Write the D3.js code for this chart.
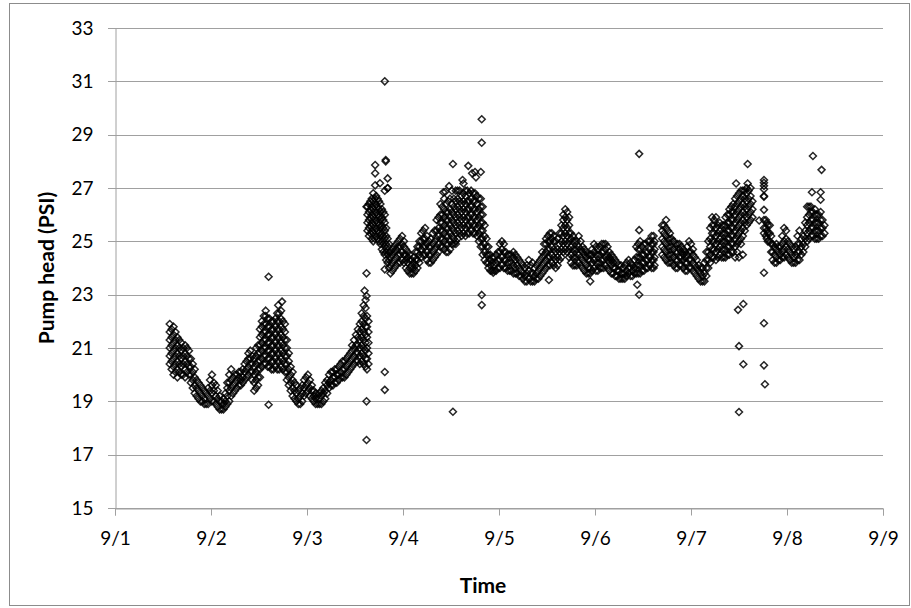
<!DOCTYPE html>
<html>
<head>
<meta charset="utf-8">
<script src="https://cdn.jsdelivr.net/npm/d3@7/dist/d3.min.js"></script>
<style>
  html, body { margin: 0; padding: 0; background: #fff; }
  svg { display: block; }
  text { font-family: Lato, "Open Sans", sans-serif; fill: #000; }
</style>
</head>
<body>
<svg id="chart" width="911" height="608"></svg>
<script>
// Pump head readings, September. Each row: [day of month, readings logged around that time...]
const pumpRows = [
  [1.57, 20.4, 20.7, 21.0, 21.3, 21.6, 21.9],
  [1.59, 20.2, 20.5, 20.8, 21.1, 21.4, 21.7],
  [1.61, 20.0, 20.3, 20.6, 20.9, 21.2, 21.5, 21.8],
  [1.63, 20.1, 20.4, 20.7, 21.0, 21.3, 21.6],
  [1.65, 19.9, 20.2, 20.5, 20.8, 21.1, 21.4],
  [1.67, 20.1, 20.4, 20.7, 21.0, 21.3],
  [1.69, 20.0, 20.3, 20.6, 20.9, 21.2],
  [1.71, 20.0, 20.4, 20.7, 21.0],
  [1.73, 19.9, 20.2, 20.5, 20.8, 21.1],
  [1.75, 20.1, 20.4, 20.7, 21.0],
  [1.77, 20.0, 20.3, 20.6, 20.9],
  [1.79, 19.7, 20.0, 20.3, 20.6],
  [1.81, 19.5, 19.8, 20.1, 20.4],
  [1.83, 19.3, 19.6, 19.9, 20.2],
  [1.85, 19.2, 19.5, 19.8],
  [1.87, 19.1, 19.4, 19.7],
  [1.89, 19.0, 19.3, 19.6],
  [1.91, 19.0, 19.2, 19.5],
  [1.93, 18.9, 19.1, 19.4],
  [1.95, 18.9, 19.3],
  [1.97, 18.9, 19.2, 19.5],
  [1.99, 19.1, 19.4, 19.8],
  [2.01, 19.0, 19.3, 19.6, 20.0],
  [2.03, 19.0, 19.4, 19.7],
  [2.05, 18.9, 19.2, 19.6],
  [2.07, 18.8, 19.1, 19.4],
  [2.09, 18.7, 19.0, 19.2],
  [2.11, 18.7, 19.0],
  [2.13, 18.7, 18.9, 19.1],
  [2.15, 18.8, 19.0, 19.3],
  [2.17, 18.9, 19.2, 19.5, 19.7],
  [2.19, 19.0, 19.4, 19.7, 20.0],
  [2.21, 19.2, 19.5, 19.8, 20.2],
  [2.23, 19.3, 19.6, 19.9],
  [2.25, 19.4, 19.7, 20.0],
  [2.27, 19.5, 19.8, 20.0],
  [2.29, 19.6, 19.9, 20.1],
  [2.31, 19.6, 19.8, 20.1],
  [2.33, 19.7, 19.9, 20.2],
  [2.35, 19.8, 20.1, 20.4],
  [2.37, 19.9, 20.2, 20.5],
  [2.39, 20.0, 20.3, 20.6, 20.8],
  [2.41, 20.1, 20.4, 20.6, 20.9],
  [2.43, 19.8, 20.1, 20.4, 20.7],
  [2.45, 19.4, 19.7, 20.0, 20.3, 20.6],
  [2.47, 19.5, 19.8, 20.1, 20.4, 20.7, 21.0],
  [2.49, 19.6, 19.9, 20.2, 20.5, 20.8, 21.1],
  [2.51, 19.9, 20.2, 20.5, 20.8, 21.1, 21.4, 21.7],
  [2.53, 20.3, 20.6, 20.9, 21.2, 21.5, 21.8, 22.0],
  [2.55, 20.4, 20.7, 21.0, 21.3, 21.6, 21.9, 22.2],
  [2.57, 20.4, 20.7, 21.0, 21.3, 21.6, 21.9, 22.2, 22.4],
  [2.59, 20.3, 20.6, 20.9, 21.2, 21.5, 21.8, 22.1],
  [2.61, 20.3, 20.6, 20.9, 21.2, 21.5, 21.8, 22.1],
  [2.63, 20.2, 20.5, 20.8, 21.1, 21.4, 21.7, 22.0],
  [2.65, 20.2, 20.5, 20.8, 21.1, 21.4, 21.7, 22.0],
  [2.67, 20.3, 20.6, 20.9, 21.2, 21.5, 21.8, 22.1],
  [2.69, 20.2, 20.5, 20.8, 21.1, 21.4, 21.7, 22.0, 22.3],
  [2.71, 20.2, 20.5, 20.8, 21.1, 21.4, 21.7, 22.0, 22.3],
  [2.73, 20.3, 20.6, 20.9, 21.2, 21.5, 21.8, 22.1, 22.4],
  [2.75, 20.2, 20.5, 20.8, 21.1, 21.4, 21.7, 22.0],
  [2.77, 20.1, 20.4, 20.7, 21.0, 21.3, 21.6, 21.9],
  [2.79, 19.8, 20.1, 20.4, 20.7, 21.0, 21.3],
  [2.81, 19.6, 19.9, 20.2, 20.5, 20.8],
  [2.83, 19.4, 19.7, 20.0, 20.3],
  [2.85, 19.2, 19.5, 19.8, 20.1],
  [2.87, 19.1, 19.4, 19.7],
  [2.89, 19.0, 19.3, 19.6],
  [2.91, 18.9, 19.1, 19.4],
  [2.93, 18.9, 19.2, 19.5],
  [2.95, 19.0, 19.3, 19.6],
  [2.97, 19.2, 19.5, 19.8],
  [2.99, 19.3, 19.6, 19.9],
  [3.01, 19.4, 19.7, 20.0],
  [3.03, 19.2, 19.5, 19.8],
  [3.05, 19.1, 19.4, 19.6],
  [3.07, 19.0, 19.2, 19.4],
  [3.09, 18.9, 19.1, 19.3],
  [3.11, 18.9, 19.2],
  [3.13, 18.9, 19.1, 19.3],
  [3.15, 18.9, 19.2, 19.4],
  [3.17, 19.0, 19.3, 19.5],
  [3.19, 19.1, 19.4, 19.7],
  [3.21, 19.3, 19.6, 19.8],
  [3.23, 19.5, 19.7, 20.0],
  [3.25, 19.6, 19.8, 20.1],
  [3.27, 19.6, 19.9, 20.1],
  [3.29, 19.7, 19.9, 20.2],
  [3.31, 19.7, 20.0, 20.2],
  [3.33, 19.8, 20.0, 20.3],
  [3.35, 19.9, 20.1, 20.4],
  [3.37, 19.9, 20.2, 20.5],
  [3.39, 19.9, 20.2, 20.5],
  [3.41, 20.0, 20.3, 20.6],
  [3.43, 20.1, 20.4, 20.7],
  [3.45, 20.2, 20.5, 20.8],
  [3.47, 20.3, 20.6, 20.9, 21.1],
  [3.49, 20.4, 20.7, 21.0, 21.3],
  [3.51, 20.5, 20.8, 21.1, 21.5],
  [3.53, 20.5, 20.8, 21.1, 21.4, 21.7],
  [3.55, 20.4, 20.7, 21.0, 21.3, 21.6, 21.9],
  [3.57, 20.5, 20.8, 21.1, 21.4, 21.7, 22.0, 22.3],
  [3.59, 20.4, 20.7, 21.0, 21.3, 21.6, 21.9, 22.2, 22.6],
  [3.61, 20.3, 20.6, 20.9, 21.2, 21.5, 21.8, 22.1, 22.5, 22.8],
  [3.625, 20.2, 20.6, 21.0, 21.4, 21.8, 22.2],
  [3.64, 20.4, 20.8, 21.2, 21.6, 22.0],
  [3.63, 25.4, 25.7, 26.0, 26.3],
  [3.645, 25.2, 25.5, 25.8, 26.1, 26.4],
  [3.66, 25.3, 25.6, 25.9, 26.2, 26.5],
  [3.675, 25.1, 25.4, 25.7, 26.0, 26.3, 26.6],
  [3.69, 25.0, 25.3, 25.6, 25.9, 26.2, 26.5, 26.8],
  [3.705, 25.1, 25.4, 25.7, 26.0, 26.3, 26.6],
  [3.72, 25.2, 25.5, 25.8, 26.1, 26.4, 26.7],
  [3.735, 25.1, 25.4, 25.7, 26.0, 26.3, 26.6],
  [3.75, 25.0, 25.3, 25.6, 25.9, 26.2, 26.5],
  [3.765, 24.9, 25.2, 25.5, 25.8, 26.1, 26.4],
  [3.78, 24.7, 25.0, 25.3, 25.6, 25.9, 26.2],
  [3.795, 24.6, 24.9, 25.2, 25.5, 25.8, 26.1],
  [3.81, 24.5, 24.8, 25.1, 25.4, 25.7, 26.0, 26.9],
  [3.825, 24.3, 24.6, 24.9, 25.2, 25.5],
  [3.84, 24.2, 24.5, 24.8, 25.1, 27.0],
  [3.855, 24.0, 24.3, 24.6, 24.9],
  [3.87, 23.8, 24.1, 24.4, 24.6],
  [3.89, 23.9, 24.2, 24.5, 24.7],
  [3.91, 24.0, 24.3, 24.6, 24.8],
  [3.93, 24.1, 24.4, 24.7, 24.9],
  [3.95, 24.2, 24.5, 24.8, 25.0],
  [3.97, 24.2, 24.5, 24.8, 25.1],
  [3.99, 24.3, 24.6, 24.9, 25.2],
  [4.01, 24.2, 24.5, 24.8, 25.0],
  [4.03, 24.0, 24.3, 24.5, 24.7],
  [4.05, 23.9, 24.2, 24.4, 24.6],
  [4.07, 23.8, 24.0, 24.3, 24.5],
  [4.09, 23.8, 24.1, 24.3],
  [4.11, 23.8, 24.0, 24.2, 24.4],
  [4.13, 23.9, 24.1, 24.3, 24.6],
  [4.15, 24.0, 24.3, 24.6, 24.8],
  [4.17, 24.2, 24.5, 24.8, 25.0],
  [4.19, 24.4, 24.7, 25.0, 25.3],
  [4.21, 24.5, 24.8, 25.1, 25.4],
  [4.23, 24.5, 24.8, 25.1, 25.5],
  [4.25, 24.3, 24.6, 24.9, 25.2],
  [4.27, 24.2, 24.5, 24.8, 25.0],
  [4.29, 24.2, 24.5, 24.8, 25.1],
  [4.31, 24.3, 24.6, 24.9, 25.3],
  [4.33, 24.4, 24.7, 25.0, 25.4],
  [4.35, 24.5, 24.8, 25.1, 25.4, 25.8],
  [4.37, 24.6, 24.9, 25.2, 25.5, 25.9],
  [4.39, 24.8, 25.1, 25.4, 25.7, 26.0, 26.4],
  [4.41, 24.8, 25.1, 25.4, 25.7, 26.0, 26.3],
  [4.43, 24.7, 25.0, 25.3, 25.6, 25.9, 26.2, 26.6],
  [4.45, 24.6, 24.9, 25.2, 25.5, 25.8, 26.1, 26.4],
  [4.47, 24.6, 24.9, 25.2, 25.5, 25.8, 26.1, 26.5],
  [4.49, 24.7, 25.0, 25.3, 25.6, 25.9, 26.2, 26.6],
  [4.51, 24.9, 25.2, 25.5, 25.8, 26.1, 26.4, 26.9],
  [4.53, 24.9, 25.1, 25.4, 25.7, 26.0, 26.3, 26.6],
  [4.55, 24.9, 25.0, 25.3, 25.6, 25.9, 26.2, 26.5, 26.9],
  [4.57, 25.1, 25.4, 25.7, 26.0, 26.3, 26.6, 26.9],
  [4.59, 25.3, 25.6, 25.9, 26.2, 26.5, 26.9],
  [4.61, 25.2, 25.5, 25.8, 26.1, 26.4, 26.7],
  [4.63, 25.3, 25.6, 25.9, 26.2, 26.5, 26.8],
  [4.65, 25.2, 25.5, 25.8, 26.1, 26.4, 26.7, 26.9],
  [4.67, 25.3, 25.6, 25.9, 26.2, 26.5, 26.9],
  [4.69, 25.3, 25.6, 25.9, 26.2, 26.5, 26.8],
  [4.71, 25.4, 25.7, 26.0, 26.3, 26.6, 26.9],
  [4.73, 25.3, 25.6, 25.9, 26.2, 26.5, 26.8],
  [4.75, 25.3, 25.6, 25.9, 26.2, 26.5, 26.8],
  [4.77, 25.2, 25.5, 25.8, 26.1, 26.4, 26.7],
  [4.79, 25.0, 25.3, 25.6, 25.9, 26.2, 26.6],
  [4.81, 24.8, 25.1, 25.4, 25.7, 26.0, 26.3, 26.6],
  [4.83, 24.5, 24.8, 25.1, 25.4, 25.7, 26.0, 26.3],
  [4.85, 24.3, 24.6, 24.9, 25.2, 25.6],
  [4.87, 24.2, 24.5, 24.8, 25.1],
  [4.89, 24.0, 24.2, 24.5, 24.8],
  [4.91, 23.9, 24.1, 24.3, 24.5],
  [4.93, 23.9, 24.2, 24.4],
  [4.95, 23.9, 24.1, 24.4],
  [4.97, 23.9, 24.2, 24.5],
  [4.99, 24.0, 24.3, 24.6],
  [5.01, 24.0, 24.3, 24.6, 24.9],
  [5.03, 24.1, 24.4, 24.7, 25.0],
  [5.05, 24.0, 24.3, 24.6, 24.9],
  [5.07, 24.0, 24.3, 24.6],
  [5.09, 23.9, 24.2, 24.5],
  [5.11, 23.9, 24.2, 24.5],
  [5.13, 23.9, 24.2, 24.5],
  [5.15, 23.8, 24.1, 24.4, 24.6],
  [5.17, 23.8, 24.0, 24.3, 24.5],
  [5.19, 23.8, 24.1, 24.4],
  [5.21, 23.7, 24.0, 24.3],
  [5.23, 23.7, 23.9, 24.2],
  [5.25, 23.6, 23.8, 24.1],
  [5.27, 23.5, 23.7, 24.0],
  [5.29, 23.5, 23.8, 24.1],
  [5.31, 23.6, 23.9, 24.3],
  [5.33, 23.5, 23.8, 24.1],
  [5.35, 23.5, 23.8, 24.2],
  [5.37, 23.5, 23.7, 24.0],
  [5.39, 23.6, 23.8, 24.1],
  [5.41, 23.6, 23.9, 24.2],
  [5.43, 23.7, 24.0, 24.3],
  [5.45, 23.8, 24.1, 24.4, 24.6],
  [5.47, 23.9, 24.2, 24.5, 24.9],
  [5.49, 24.0, 24.3, 24.6, 24.9, 25.1],
  [5.51, 24.1, 24.4, 24.7, 25.0, 25.2],
  [5.53, 24.1, 24.4, 24.7, 25.0, 25.3],
  [5.55, 24.2, 24.5, 24.8, 25.1, 25.3],
  [5.57, 24.1, 24.4, 24.7, 25.0, 25.2],
  [5.59, 24.0, 24.3, 24.6, 25.0],
  [5.61, 24.1, 24.4, 24.7, 25.1],
  [5.63, 24.3, 24.6, 24.9, 25.3],
  [5.65, 24.4, 24.7, 25.0, 25.3, 25.6],
  [5.67, 24.6, 24.9, 25.2, 25.5, 25.8, 26.0],
  [5.69, 24.7, 25.0, 25.3, 25.6, 25.9, 26.2],
  [5.71, 24.6, 24.9, 25.2, 25.5, 25.8, 26.1],
  [5.73, 24.4, 24.7, 25.0, 25.3, 25.6, 25.9],
  [5.75, 24.2, 24.5, 24.8, 25.1, 25.3],
  [5.77, 24.1, 24.4, 24.7, 25.0, 25.2],
  [5.79, 24.1, 24.4, 24.7, 25.0],
  [5.81, 24.1, 24.4, 24.7, 25.0],
  [5.83, 24.2, 24.5, 24.8, 25.2],
  [5.85, 24.1, 24.4, 24.7, 25.0],
  [5.87, 24.0, 24.3, 24.6, 24.8],
  [5.89, 23.9, 24.2, 24.5, 24.7],
  [5.91, 23.8, 24.1, 24.4, 24.6],
  [5.93, 23.8, 24.0, 24.3, 24.5],
  [5.95, 23.8, 24.0, 24.3, 24.5],
  [5.97, 23.9, 24.2, 24.5, 24.7],
  [5.99, 24.0, 24.3, 24.6, 24.9],
  [6.01, 23.9, 24.2, 24.5, 24.8],
  [6.03, 23.9, 24.2, 24.5, 24.7],
  [6.05, 24.0, 24.2, 24.5, 24.8],
  [6.07, 24.0, 24.3, 24.6, 24.9],
  [6.09, 24.0, 24.3, 24.6, 24.9],
  [6.11, 24.1, 24.4, 24.7, 24.9],
  [6.13, 24.0, 24.3, 24.5, 24.8],
  [6.15, 23.9, 24.2, 24.4, 24.6],
  [6.17, 23.8, 24.1, 24.3, 24.5],
  [6.19, 23.8, 24.0, 24.2, 24.4],
  [6.21, 23.7, 24.0, 24.3],
  [6.23, 23.7, 23.9, 24.2],
  [6.25, 23.6, 23.9, 24.1],
  [6.27, 23.6, 23.8, 24.1],
  [6.29, 23.6, 23.8, 24.0],
  [6.31, 23.6, 23.8, 24.1],
  [6.33, 23.7, 23.9, 24.2],
  [6.35, 23.8, 24.0, 24.3],
  [6.37, 23.7, 24.0, 24.2],
  [6.39, 23.7, 23.9, 24.1],
  [6.41, 23.8, 24.0, 24.3],
  [6.43, 23.8, 24.1, 24.4, 24.8],
  [6.45, 23.8, 24.1, 24.4, 24.7, 24.9],
  [6.47, 23.8, 24.1, 24.4, 24.7, 25.0],
  [6.49, 23.9, 24.2, 24.5, 24.8],
  [6.51, 23.9, 24.2, 24.5, 24.9],
  [6.53, 24.0, 24.3, 24.6, 24.9],
  [6.55, 24.0, 24.3, 24.6, 25.0],
  [6.57, 24.1, 24.4, 24.7, 25.0],
  [6.59, 24.0, 24.3, 24.6, 24.9, 25.2],
  [6.61, 24.0, 24.3, 24.6, 24.9, 25.2],
  [6.62, 24.1, 24.4, 24.7, 25.0],
  [6.70, 24.5, 24.8, 25.1, 25.4, 25.6],
  [6.72, 24.4, 24.7, 25.0, 25.3, 25.6],
  [6.74, 24.3, 24.6, 24.9, 25.2, 25.5, 25.8],
  [6.76, 24.2, 24.5, 24.8, 25.1, 25.4],
  [6.78, 24.2, 24.5, 24.8, 25.1, 25.3],
  [6.80, 24.2, 24.5, 24.8, 25.1],
  [6.82, 24.1, 24.4, 24.7, 25.0],
  [6.84, 24.0, 24.3, 24.6, 24.9],
  [6.86, 24.0, 24.3, 24.6, 24.9],
  [6.88, 24.1, 24.4, 24.7, 24.9],
  [6.90, 24.1, 24.4, 24.6, 24.8],
  [6.92, 24.0, 24.3, 24.5, 24.7],
  [6.94, 23.9, 24.2, 24.4, 24.6],
  [6.96, 23.9, 24.2, 24.5, 24.8],
  [6.98, 24.0, 24.3, 24.6, 25.0],
  [7.00, 24.0, 24.3, 24.6, 24.9],
  [7.02, 23.9, 24.2, 24.5, 24.7],
  [7.04, 23.8, 24.1, 24.4],
  [7.06, 23.7, 24.0, 24.3],
  [7.08, 23.6, 23.9, 24.1],
  [7.10, 23.5, 23.8, 24.0],
  [7.12, 23.5, 23.7, 24.0],
  [7.14, 23.5, 23.8, 24.2],
  [7.16, 23.7, 24.0, 24.3, 24.6],
  [7.18, 24.0, 24.3, 24.6, 25.0],
  [7.20, 24.2, 24.5, 24.8, 25.1, 25.5],
  [7.22, 24.4, 24.7, 25.0, 25.3, 25.6, 25.9],
  [7.24, 24.4, 24.7, 25.0, 25.3, 25.6, 25.8],
  [7.26, 24.3, 24.6, 24.9, 25.2, 25.5, 25.9],
  [7.28, 24.4, 24.7, 25.0, 25.3, 25.6],
  [7.30, 24.5, 24.8, 25.1, 25.4, 25.7],
  [7.32, 24.4, 24.7, 25.0, 25.3, 25.6],
  [7.34, 24.4, 24.7, 25.0, 25.3, 25.6],
  [7.36, 24.4, 24.7, 25.0, 25.3, 25.6, 25.9],
  [7.38, 24.5, 24.8, 25.1, 25.4, 25.7, 26.0],
  [7.40, 24.5, 24.8, 25.1, 25.4, 25.7, 26.0, 26.2],
  [7.42, 24.6, 24.9, 25.2, 25.5, 25.8, 26.1, 26.3],
  [7.44, 24.6, 24.9, 25.2, 25.5, 25.8, 26.1, 26.4],
  [7.46, 24.4, 24.8, 25.1, 25.4, 25.7, 26.0, 26.3, 26.6],
  [7.48, 24.6, 24.9, 25.2, 25.5, 25.8, 26.1, 26.4, 26.7],
  [7.50, 24.4, 25.0, 25.3, 25.6, 25.9, 26.2, 26.5, 26.8],
  [7.52, 24.9, 25.1, 25.4, 25.7, 26.0, 26.3, 26.6, 26.9],
  [7.54, 24.5, 25.2, 25.5, 25.8, 26.1, 26.4, 26.7, 26.9],
  [7.56, 25.4, 25.7, 26.0, 26.3, 26.6, 26.9],
  [7.58, 25.6, 25.9, 26.2, 26.5, 26.8, 27.0],
  [7.60, 25.7, 26.0, 26.3, 26.6, 26.9],
  [7.62, 25.8, 26.1, 26.4, 26.7, 27.0],
  [7.64, 25.9, 26.2, 26.5],
  [7.76, 25.3, 25.5, 25.8, 26.18, 26.67, 26.7, 26.95, 27.08, 27.2, 27.3],
  [7.78, 25.2, 25.5, 25.8],
  [7.79, 25.1, 25.4, 25.7],
  [7.80, 25.0, 25.3, 25.6],
  [7.82, 25.0, 25.3, 25.6],
  [7.835, 24.6, 24.9, 25.2],
  [7.85, 24.3, 24.6, 24.9],
  [7.87, 24.2, 24.5, 24.8],
  [7.89, 24.2, 24.4, 24.7, 24.9],
  [7.91, 24.3, 24.6, 24.8],
  [7.93, 24.3, 24.5, 24.8],
  [7.95, 24.4, 24.6, 24.9, 25.2],
  [7.97, 24.4, 24.7, 25.0, 25.5],
  [7.99, 24.5, 24.8, 25.1, 25.4],
  [8.01, 24.4, 24.7, 25.0],
  [8.03, 24.3, 24.6, 24.9],
  [8.05, 24.2, 24.5, 24.8],
  [8.07, 24.2, 24.4, 24.7],
  [8.09, 24.2, 24.5, 24.8],
  [8.11, 24.3, 24.6, 24.9, 25.2],
  [8.13, 24.3, 24.6, 24.9, 25.4],
  [8.15, 24.5, 24.8, 25.1],
  [8.17, 24.6, 24.9, 25.2],
  [8.19, 24.8, 25.1, 25.4, 25.7],
  [8.21, 25.0, 25.3, 25.6, 25.9, 26.3],
  [8.23, 25.1, 25.4, 25.7, 26.0, 26.3],
  [8.25, 25.2, 25.5, 25.8, 26.1, 26.3],
  [8.27, 25.2, 25.5, 25.8, 26.1],
  [8.29, 25.1, 25.4, 25.7, 26.0, 26.2],
  [8.31, 25.1, 25.4, 25.7, 26.0],
  [8.33, 25.1, 25.4, 25.7, 26.0],
  [8.35, 25.2, 25.5, 25.8, 26.1],
  [8.37, 25.2, 25.5, 25.8],
  [8.39, 25.3, 25.6]
];

// Isolated readings away from the main trace: [day, psi]
const pumpSpikes = [
  [2.60, 23.67], [2.60, 18.87], [2.74, 22.74], [2.70, 22.6],
  [3.60, 23.15], [3.62, 22.95], [3.62, 23.8], [3.62, 19.0], [3.62, 17.55],
  [3.81, 20.1], [3.81, 19.43], [3.62, 26.3],
  [3.71, 27.86], [3.71, 27.55], [3.71, 27.1], [3.76, 27.18],
  [3.82, 28.0], [3.82, 28.05], [3.84, 27.36], [3.84, 26.99],
  [3.81, 31.0], [3.81, 23.95],
  [4.42, 26.84], [4.44, 26.86], [4.48, 27.07], [4.52, 27.9], [4.62, 27.3], [4.63, 27.17],
  [4.68, 27.83], [4.72, 27.55], [4.75, 27.6], [4.76, 27.4], [4.81, 27.6],
  [4.82, 29.58], [4.82, 28.7], [4.82, 22.99], [4.82, 22.61], [4.52, 18.61],
  [4.94, 23.82], [5.52, 23.55], [5.95, 23.5], [6.44, 23.37],
  [6.46, 28.28], [6.46, 25.42], [6.46, 23.0],
  [7.47, 27.17], [7.59, 27.9], [7.59, 27.17],
  [7.49, 22.43], [7.545, 22.65], [7.50, 21.07], [7.545, 20.39], [7.50, 18.6],
  [7.71, 25.78], [7.76, 23.82], [7.76, 21.93], [7.76, 20.35], [7.77, 19.64],
  [8.27, 28.2], [8.36, 27.68], [8.26, 26.84], [8.35, 26.84], [8.35, 26.56]
];

const dayTicks = [1, 2, 3, 4, 5, 6, 7, 8, 9];
const dayLabels = ["9/1", "9/2", "9/3", "9/4", "9/5", "9/6", "9/7", "9/8", "9/9"];
const psiTicks = [15, 17, 19, 21, 23, 25, 27, 29, 31, 33];

const svg = d3.select("#chart");
const W = 911, H = 608;
const plot = { left: 115, right: 883, top: 28, bottom: 508 };

const x = d3.scaleLinear().domain([1, 9]).range([plot.left, plot.right]);
const y = d3.scaleLinear().domain([15, 33]).range([plot.bottom, plot.top]);

// Outer chart border
svg.append("rect")
  .attr("x", 9.5).attr("y", 3.5)
  .attr("width", W - 11).attr("height", H - 6)
  .attr("fill", "none").attr("stroke", "#8c8c8c").attr("stroke-width", 1);

// Horizontal gridlines (also serve as the y tick marks)
svg.append("g").selectAll("line")
  .data(psiTicks)
  .join("line")
  .attr("x1", plot.left - 7).attr("x2", plot.right)
  .attr("y1", d => Math.round(y(d)) + 0.5).attr("y2", d => Math.round(y(d)) + 0.5)
  .attr("stroke", "#a0a0a0").attr("stroke-width", 1);

// Y axis
const yAxis = svg.append("g")
  .attr("transform", `translate(${plot.left + 0.5},0)`)
  .call(d3.axisLeft(y).tickValues(psiTicks).tickSize(0).tickPadding(22).tickFormat(d3.format("d")));
yAxis.select(".domain").attr("stroke", "#a0a0a0");
yAxis.selectAll("text").attr("font-size", "19px").attr("font-family", "Lato, sans-serif").attr("fill", "#000");

// X axis
const xAxis = svg.append("g")
  .attr("transform", `translate(0,${Math.round(y(15)) + 0.5})`)
  .call(d3.axisBottom(x).tickValues(dayTicks).tickSize(7).tickPadding(16)
    .tickFormat((d, i) => dayLabels[i]));
xAxis.select(".domain").attr("stroke", "#a0a0a0");
xAxis.selectAll(".tick line").attr("stroke", "#a0a0a0");
xAxis.selectAll("text").attr("font-size", "19px").attr("font-family", "Lato, sans-serif").attr("fill", "#000");

// Readings as hollow diamonds
const points = [];
pumpRows.forEach(row => row.slice(1).forEach(v => points.push([row[0], v])));
pumpSpikes.forEach(p => points.push(p));

const r = 3.5;
const diamond = `M0,${-r}L${r},0L0,${r}L${-r},0Z`;
svg.append("g").selectAll("path")
  .data(points)
  .join("path")
  .attr("d", diamond)
  .attr("transform", d => `translate(${x(d[0])},${y(d[1])})`)
  .attr("fill", "none")
  .attr("stroke", "#000")
  .attr("stroke-opacity", 0.85)
  .attr("stroke-width", 1.5);

// Axis titles
svg.append("text")
  .attr("x", 483).attr("y", 593)
  .attr("text-anchor", "middle")
  .attr("font-size", "21px").attr("font-weight", "bold")
  .text("Time");

svg.append("text")
  .attr("transform", `translate(54,${(plot.top + plot.bottom) / 2}) rotate(-90)`)
  .attr("text-anchor", "middle")
  .attr("font-size", "21px").attr("font-weight", "bold")
  .text("Pump head (PSI)");
</script>
</body>
</html>
